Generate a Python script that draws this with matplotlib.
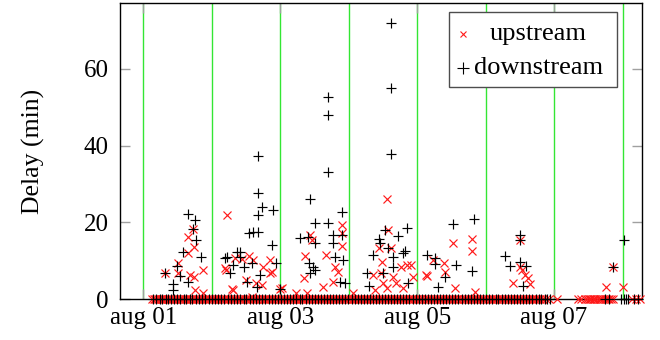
import numpy as np
import matplotlib
matplotlib.use("Agg")
import matplotlib.pyplot as plt
import matplotlib.dates as mdates
from matplotlib.patches import Rectangle
from matplotlib.ticker import FuncFormatter

plt.rcParams["font.family"] = ["Liberation Serif", "DejaVu Serif"]

# Observation start: hours are counted from midnight, 1 August
start = np.datetime64("2013-08-01T00:00")

# Upstream delays (min) that are above zero, with the hour they were observed
up_hours = [7.6, 12.3, 12.3, 15.8, 15.8, 16.4, 17.5, 17.8, 17.8, 18.1, 20.8, 21.0, 29.2,
            28.6, 29.0, 31.0, 31.5, 32.1, 34.5, 36.0, 37.1, 38.0, 38.5, 39.5, 41.5, 42.0,
            44.4, 44.4, 45.0, 47.9, 48.5,
            53.7, 56.3, 56.7, 57.5, 58.4, 59.0, 63.1, 64.0, 66.6, 67.2, 68.3, 69.5, 69.5, 69.5,
            73.6, 80.6, 81.2, 82.8, 83.5, 83.8, 84.1, 85.3, 85.6, 85.8, 87.0, 87.6, 88.7,
            90.5, 91.1, 92.3, 94.0, 94.6, 99.0,
            99.3, 101.6, 105.3, 105.7, 108.6, 109.2, 115.4, 115.4, 116.2,
            129.6, 132.0, 132.2, 132.6, 133.7, 134.9, 135.5,
            162.1, 164.5, 168.2]
up_delay = [6.9, 9.5, 6.9, 16.3, 11.9, 6.3, 18.2, 13.5, 5.8, 2.3, 1.5, 7.6, 21.9,
            8.0, 7.6, 2.5, 2.3, 10.6, 10.4, 5.0, 11.2, 0.6, 10.2, 4.1, 3.7, 8.4,
            10.2, 6.7, 7.1, 2.5, 2.8,
            1.5, 5.4, 11.2, 1.6, 16.7, 15.4, 3.2, 11.5, 4.5, 8.4, 7.1, 19.3, 13.8, 17.1,
            1.5, 6.3, 2.3, 13.2, 6.7, 9.7, 4.3, 2.8, 26.0, 18.0, 13.2, 5.8, 4.1,
            8.4, 2.8, 8.9, 8.9, 5.8, 6.3,
            6.0, 10.2, 9.5, 7.1, 14.7, 2.8, 15.7, 12.6, 1.9,
            4.1, 8.4, 15.4, 7.6, 6.3, 5.4, 3.9,
            3.2, 8.3, 3.2]

# Upstream observations with no delay
up_zero_hours = [3.0, 3.6, 4.1, 4.6, 5.0, 5.7, 6.2, 6.6, 7.0, 7.7, 8.3, 8.7, 9.1, 9.5, 10.0,
                 10.6, 11.2, 11.9, 12.5, 13.0, 13.4, 14.0, 14.6, 15.0, 15.5, 16.2, 16.8, 17.2,
                 17.7, 18.4, 19.0, 19.4, 19.8, 20.5, 21.2, 21.8, 22.5, 23.0, 23.4, 24.0, 24.6,
                 25.0, 25.5, 26.2, 26.9, 27.3, 27.8, 28.4, 29.0, 29.6, 30.1, 30.7, 31.3, 31.8,
                 32.2, 32.9, 33.5, 34.0, 34.4, 35.1, 35.7, 36.1, 36.6, 37.2, 37.8, 38.3, 38.9,
                 39.4, 40.0, 40.6, 41.2, 41.8, 42.3, 42.7, 43.1, 43.8, 44.5, 45.0, 45.6, 46.0,
                 46.4, 47.0, 47.7, 48.2, 48.8, 49.2, 49.6, 50.3, 50.9, 51.4, 51.8, 52.4, 53.0,
                 53.6, 54.1, 54.7, 55.2, 55.6, 56.0, 56.7, 57.3, 57.9, 58.5, 59.0, 59.4, 60.0,
                 60.6, 61.0, 61.5, 62.2, 62.8, 63.2, 63.7, 64.3, 64.9, 65.5, 66.0, 66.6, 67.1,
                 67.7, 68.2, 68.6, 69.0, 69.7, 70.3, 70.8, 71.2, 71.8, 72.4, 73.0, 73.5, 73.9,
                 74.3, 75.0, 75.6, 76.0, 76.5, 77.2, 77.8, 78.2, 78.6, 79.3, 79.9, 80.4, 80.8,
                 81.4, 82.0, 82.6, 83.1, 83.7, 84.2, 84.6, 85.0, 85.7, 86.3, 86.7, 87.2, 87.9,
                 88.5, 88.9, 89.4, 90.0, 90.6, 91.0, 91.5, 92.2, 92.8, 93.2, 93.7, 94.3, 94.9,
                 95.5, 96.0, 96.6, 97.1, 97.5, 98.0, 98.7, 99.3, 99.7, 100.2, 100.9, 101.5,
                 101.9, 102.4, 103.0, 103.6, 104.0, 104.5, 105.2, 105.8, 106.2, 106.7, 107.3,
                 107.9, 108.5, 109.0, 109.6, 110.1, 110.5, 111.0, 111.7, 112.3, 112.7, 113.2,
                 113.8, 114.4, 115.0, 115.5, 116.1, 116.6, 117.0, 117.4, 118.1, 118.7, 119.1,
                 119.6, 120.2, 120.8, 121.4, 121.9, 122.5, 123.0, 123.6, 124.1, 124.7, 125.2,
                 125.6, 126.0, 126.7, 127.3, 127.7, 128.2, 128.8, 129.4, 130.0, 130.5, 131.1,
                 131.6, 132.0, 132.4, 133.1, 133.7, 134.1, 134.6, 135.2, 135.8, 136.4, 136.9,
                 137.5, 138.0, 138.6, 139.2, 139.8, 140.3, 141.1, 142.4, 145.0, 152.3, 153.6,
                 155.0, 155.6, 156.2, 156.6, 157.0, 157.6, 158.1, 158.5, 159.0, 159.6, 160.2,
                 160.6, 161.0, 161.7, 162.3, 162.9, 163.4, 164.0, 164.6, 171.2, 172.6, 174.0]

# Downstream delays (min) that are above zero, with the hour they were observed
dn_hours = [7.6, 10.3, 10.5, 11.9, 12.9, 14.0, 15.8, 15.8, 17.3, 18.1, 18.5, 20.1,
            28.6, 29.2, 30.4, 31.5, 32.7, 33.9, 33.9, 35.3, 36.2, 37.1, 38.0, 38.5, 39.7,
            40.1, 40.1, 40.1, 40.3, 40.9, 41.5, 45.0, 45.3, 46.5, 47.9,
            54.9, 57.8, 58.2, 58.4, 58.4, 59.6, 60.2, 60.2, 60.2, 64.8, 64.8, 64.8, 64.8,
            66.6, 66.6, 67.2, 68.9, 69.5, 69.5, 70.1, 70.7,
            78.3, 79.2, 80.6, 82.7, 82.9, 84.1, 84.7, 85.8, 86.9, 86.9, 86.9, 87.4, 87.6,
            89.3, 91.1, 91.7, 92.3, 92.8,
            99.3, 102.2, 102.2, 103.4, 105.7, 108.6, 109.8, 115.1, 115.9,
            126.7, 128.5, 132.0, 132.0, 132.0, 133.1, 134.3,
            164.5, 168.4]
dn_delay = [6.9, 2.3, 3.9, 8.6, 6.0, 12.3, 22.2, 4.5, 18.2, 20.6, 15.4, 11.0,
            10.6, 11.0, 6.7, 8.9, 12.3, 12.3, 11.0, 8.4, 4.5, 17.1, 9.3, 17.6, 3.2,
            37.3, 27.6, 21.9, 17.4, 6.3, 23.9, 14.1, 23.2, 9.3, 2.5,
            15.8, 16.3, 9.3, 26.0, 6.7, 8.4, 19.9, 14.5, 7.6, 52.6, 48.0, 33.0, 19.7,
            16.7, 14.5, 11.0, 4.5, 22.8, 16.7, 10.2, 4.3,
            6.7, 3.4, 11.5, 15.6, 14.5, 6.7, 18.0, 13.2, 71.9, 55.0, 37.7, 11.0, 8.4,
            16.4, 11.9, 12.6, 18.6, 4.1,
            11.5, 10.6, 9.1, 3.2, 5.8, 19.6, 8.9, 7.3, 20.9,
            11.2, 8.6, 16.7, 15.4, 9.7, 3.4, 8.6,
            8.3, 15.4]

# Downstream observations with no delay
dn_zero_hours = [3.5, 4.6, 5.8, 6.5, 7.9, 8.8, 9.6, 10.7, 11.8, 13.0, 14.2, 15.1, 16.3, 17.2,
                 18.4, 19.5, 20.6, 21.7, 22.9, 24.0, 25.1, 26.3, 27.2, 28.4, 29.6, 30.7, 31.8,
                 32.9, 34.0, 35.2, 36.1, 37.3, 38.4, 39.5, 40.6, 41.7, 42.8, 43.9, 45.1, 46.0,
                 47.2, 48.3, 49.3, 50.4, 51.5, 52.6, 53.7, 54.8, 55.8, 57.0, 58.0, 59.0, 60.1,
                 61.2, 62.3, 63.3, 64.4, 65.5, 66.5, 67.6, 68.6, 69.7, 70.8, 71.9, 73.0, 74.1,
                 75.1, 76.2, 77.3, 78.3, 79.4, 80.4, 81.5, 82.6, 83.7, 84.7, 85.8, 86.8, 87.9,
                 89.0, 90.1, 91.2, 92.2, 93.3, 94.4, 95.5, 96.5, 97.6, 98.7, 99.8, 100.8, 101.9,
                 103.0, 104.0, 105.1, 106.2, 107.2, 108.3, 109.4, 110.5, 111.6, 112.7, 113.8,
                 114.8, 115.9, 117.0, 118.1, 119.2, 120.2, 121.3, 122.4, 123.5, 124.5, 125.6,
                 126.7, 127.8, 128.9, 129.9, 131.0, 132.1, 133.2, 134.3, 135.3, 136.4, 137.5,
                 138.6, 139.6, 140.7, 141.4, 142.6, 161.7, 163.4, 167.6, 168.4, 169.2, 169.9,
                 172.2, 173.3]

# Day boundaries, labelled dates and plotted time window
day_marks = ["2013-08-01", "2013-08-02", "2013-08-03", "2013-08-04",
             "2013-08-05", "2013-08-06", "2013-08-07", "2013-08-08"]
tick_days = ["2013-08-01", "2013-08-03", "2013-08-05", "2013-08-07"]
x_window = ["2013-07-31T15:50", "2013-08-08T06:50"]
y_ticks = [0, 20, 40, 60]
y_max = 77.2


def to_dt(value):
    return np.datetime64(value).astype("datetime64[ms]").astype(object)


def to_times(hours):
    minutes = np.round(np.asarray(hours) * 60).astype("timedelta64[m]")
    return (start + minutes).astype("datetime64[ms]").astype(object)


fig = plt.figure(figsize=(6.6, 3.4), dpi=100)
ax = fig.add_axes([120 / 660, 41 / 340, 522 / 660, 296 / 340])

for d in day_marks:
    ax.axvline(to_dt(d), color="#33e633", lw=1.0, zorder=1)

up_t = to_times(list(up_hours) + list(up_zero_hours))
up_v = list(up_delay) + [0.0] * len(up_zero_hours)
dn_t = to_times(list(dn_hours) + list(dn_zero_hours))
dn_v = list(dn_delay) + [0.0] * len(dn_zero_hours)

ax.plot(up_t, up_v, linestyle="none", marker="x", color="#ff1a1a",
        markersize=5.8, markeredgewidth=0.85, zorder=3, clip_on=False,
        label="upstream")
ax.plot(dn_t, dn_v, linestyle="none", marker="+", color="black",
        markersize=7.8, markeredgewidth=0.85, zorder=4, clip_on=False,
        label="downstream")

ax.set_xlim([to_dt(v) for v in x_window])
ax.set_ylim(0, y_max)
ax.set_xticks([to_dt(d) for d in tick_days])
ax.xaxis.set_major_formatter(
    FuncFormatter(lambda x, pos: mdates.num2date(x).strftime("%b %d").lower()))
ax.set_yticks(y_ticks)

ax.tick_params(axis="both", direction="in", length=7.5, width=1.0, color="#a0a0a0",
               labelsize=18, top=True, right=True)
ax.tick_params(axis="y", pad=8.0)
ax.tick_params(axis="x", pad=6)
for s in ax.spines.values():
    s.set_linewidth(1.0)
    s.set_color("black")

ax.set_ylabel("Delay (min)", fontsize=18.5, labelpad=28)

# Legend box with centred labels
ax.add_patch(Rectangle((0.630, 0.716), 0.322, 0.254, transform=ax.transAxes,
                       facecolor="white", edgecolor="0.3", lw=1.0, zorder=5))
ax.plot([0.657], [0.894], transform=ax.transAxes, linestyle="none", marker="x",
        color="#ff1a1a", markersize=5.0, markeredgewidth=0.8, zorder=6)
ax.plot([0.657], [0.779], transform=ax.transAxes, linestyle="none", marker="+",
        color="black", markersize=8.0, markeredgewidth=0.8, zorder=6)
ax.text(0.801, 0.894, "upstream", transform=ax.transAxes, ha="center",
        va="center", fontsize=19, zorder=6)
ax.text(0.801, 0.779, "downstream", transform=ax.transAxes, ha="center",
        va="center", fontsize=19, zorder=6)

fig.savefig("out.png", dpi=100)
